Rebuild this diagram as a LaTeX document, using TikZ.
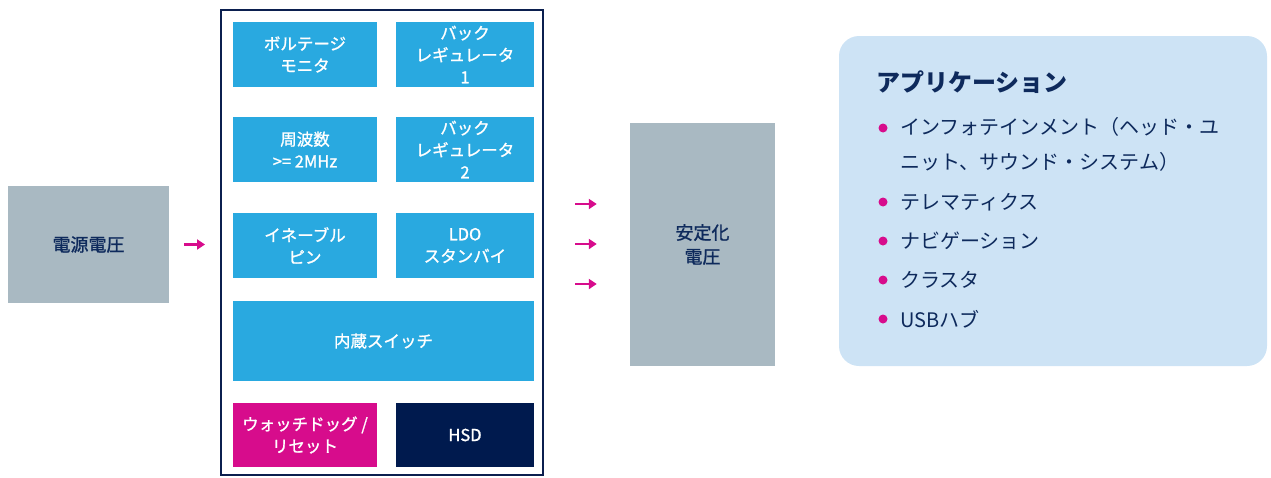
\documentclass[tikz,border=0pt]{standalone}
\usepackage{fontspec}
\setmainfont{Noto Sans CJK JP}
\newfontfamily\medfont[FakeBold=1.2]{Noto Sans CJK JP}
\usetikzlibrary{arrows.meta}
\definecolor{grayb}{HTML}{A9B9C2}
\definecolor{blueb}{HTML}{29A9E0}
\definecolor{magb}{HTML}{D70C8C}
\definecolor{navyb}{HTML}{001A4E}
\definecolor{navyt}{HTML}{0E2A5C}
\definecolor{panel}{HTML}{CDE3F5}
\definecolor{framec}{HTML}{0B1F4F}
\tikzset{
  graybox/.style={fill=grayb, text=navyt, inner sep=0pt, align=center,
    font=\fontsize{18}{24}\selectfont\medfont},
  blk/.style={fill=blueb, text=white, inner sep=0pt, align=center,
    font=\fontsize{16.5}{22}\selectfont\medfont, minimum height=65pt},
  lcol/.style={minimum width=144pt},
  rcol/.style={minimum width=138pt},
  arr/.style={draw=magb, line width=2.4pt, -{Triangle[length=8pt,width=10pt]}},
  item/.style={anchor=west, text=navyt, inner sep=0pt, align=left,
    font=\fontsize{20}{35}\selectfont},
  dotm/.style={circle, fill=magb, inner sep=0pt, minimum size=9pt}
}
\begin{document}
\begin{tikzpicture}[x=1pt,y=-1pt]
\useasboundingbox (0,0) rectangle (1271,477);
% source
\node[graybox, minimum width=161pt, minimum height=117pt] (src) at (88.5,244.5) {電源電圧};
% frame
\node[draw=framec, line width=2pt, minimum width=322pt, minimum height=465pt, inner sep=0pt] (frame) at (382,242.5) {};
% blocks
\node[blk, lcol] (b1) at (305,54.5) {ボルテージ\\モニタ};
\node[blk, rcol] (b2) at (465,54.5) {バック\\レギュレータ\\1};
\node[blk, lcol] (b3) at (305,149.5) {周波数\\>= 2MHz};
\node[blk, rcol] (b4) at (465,149.5) {バック\\レギュレータ\\2};
\node[blk, lcol] (b5) at (305,245.5) {イネーブル\\ピン};
\node[blk, rcol] (b6) at (465,245.5) {LDO\\スタンバイ};
\node[blk, minimum width=301pt, minimum height=80pt] (b7) at (383.5,341) {内蔵スイッチ};
\node[blk, lcol, fill=magb, minimum height=64pt] (b8) at (305,435) {ウォッチドッグ /\\リセット};
\node[blk, rcol, fill=navyb, minimum height=64pt] (b9) at (465,435) {HSD};
% destination
\node[graybox, minimum width=145pt, minimum height=243pt] (dst) at (702.5,244.5) {安定化\\電圧};
% arrows
\draw[arr, shorten <=15pt, shorten >=15pt] (src.east) -- (src.east -| frame.west);
\coordinate (r1) at (frame.east |- 0,204);
\coordinate (r2) at (frame.east |- 0,244);
\coordinate (r3) at (frame.east |- 0,284);
\draw[arr, shorten <=31pt, shorten >=33pt] (r1) -- (r1 -| dst.west);
\draw[arr, shorten <=31pt, shorten >=33pt] (r2) -- (r2 -| dst.west);
\draw[arr, shorten <=31pt, shorten >=33pt] (r3) -- (r3 -| dst.west);
% applications panel
\node[fill=panel, rounded corners=20pt, minimum width=428pt, minimum height=330pt, inner sep=0pt] (app) at (1053,201) {};
\node[anchor=west, text=navyt, inner sep=0pt, font=\fontsize{24}{28}\selectfont\bfseries] (title) at (876,82) {アプリケーション};
\node[item] (i1) at (900,144.5) {インフォテインメント（ヘッド・ユ\\ニット、サウンド・システム）};
\node[item] (i2) at (900,202) {テレマティクス};
\node[item] (i3) at (900,241) {ナビゲーション};
\node[item] (i4) at (900,280) {クラスタ};
\node[item] (i5) at (900,319) {USBハブ};
\node[dotm] (d1) at (883,128) {};
\node[dotm] (d2) at (883,202) {};
\node[dotm] (d3) at (883,241) {};
\node[dotm] (d4) at (883,280) {};
\node[dotm] (d5) at (883,319) {};
\end{tikzpicture}
\end{document}
